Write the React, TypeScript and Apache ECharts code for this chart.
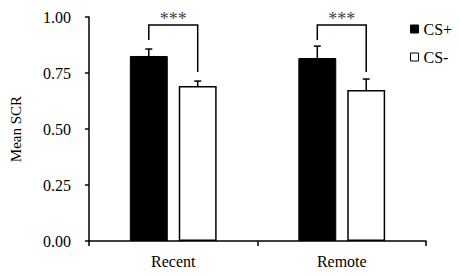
import React, { useEffect, useRef } from "react";
import * as echarts from "echarts";

const categories = ["Recent", "Remote"];
const seriesNames = ["CS+", "CS-"];
const csPlus = [0.826, 0.817];
const csMinus = [0.692, 0.674];
const csPlusErr = [0.031, 0.053];
const csMinusErr = [0.022, 0.049];
const yTicks = [0, 0.25, 0.5, 0.75, 1.0];
// significance brackets: [top, leftLegBottom, rightLegBottom]
const sigTop = [0.964, 0.964];
const sigLeftBottom = [0.897, 0.897];
const sigRightBottom = [0.754, 0.754];
const sigLabels = ["***", "***"];

const FONT = "Liberation Serif";
const BAR_W = 0.225;
const BAR_GAP = 0.29;

export default function App() {
  const ref = useRef<HTMLDivElement>(null);
  useEffect(() => {
    if (!ref.current) return;
    const chart = echarts.init(ref.current, undefined, { renderer: "svg" });

    const offsetOf = (api: any, seriesIdx: number) => {
      const bw = api.size([1, 0])[0];
      const w = bw * BAR_W;
      const g = w * BAR_GAP;
      return (seriesIdx === 0 ? -1 : 1) * (w + g) / 2;
    };

    const errData = [
      ...csPlus.map((v, i) => [i, v, v + csPlusErr[i], 0]),
      ...csMinus.map((v, i) => [i, v, v + csMinusErr[i], 1]),
    ];
    const sigData = categories.map((_, i) => [i, sigTop[i], sigLeftBottom[i], sigRightBottom[i]]);

    chart.setOption({
      animation: false,
      textStyle: { fontFamily: FONT },
      grid: { left: 88, right: 33, top: 17, bottom: 35 },
      legend: {
        orient: "vertical",
        left: 405,
        top: 16,
        itemWidth: 8,
        itemHeight: 8,
        itemGap: 12,
        icon: "rect",
        textStyle: { fontFamily: FONT, fontSize: 16, color: "#000" },
        data: [
          { name: "CS+", itemStyle: { color: "#000", borderColor: "#000", borderWidth: 1 } },
          { name: "CS-", itemStyle: { color: "#fff", borderColor: "#000", borderWidth: 1 } },
        ],
      },
      xAxis: {
        type: "category",
        data: categories,
        axisLine: { lineStyle: { color: "#000", width: 1.5 } },
        axisTick: { show: true, length: 5, lineStyle: { color: "#000", width: 1.5 } },
        axisLabel: { fontFamily: FONT, fontSize: 16, color: "#000", margin: 12 },
      },
      yAxis: {
        type: "value",
        min: 0,
        max: 1,
        interval: 0.25,
        name: "Mean SCR",
        nameLocation: "middle",
        nameGap: 66,
        nameTextStyle: { fontFamily: FONT, fontSize: 15, color: "#000" },
        splitLine: { show: false },
        axisLine: { show: true, lineStyle: { color: "#000", width: 1.5 } },
        axisTick: { show: true, length: 4, lineStyle: { color: "#000", width: 1.5 } },
        axisLabel: {
          fontFamily: FONT,
          fontSize: 16,
          color: "#000",
          margin: 18,
          formatter: (v: number) => (yTicks.includes(v) ? v.toFixed(2) : ""),
        },
      },
      series: [
        {
          name: seriesNames[0],
          type: "bar",
          data: csPlus,
          barWidth: BAR_W * 100 + "%",
          barGap: BAR_GAP * 100 + "%",
          itemStyle: { color: "#000", borderColor: "#000", borderWidth: 1 },
        },
        {
          name: seriesNames[1],
          type: "bar",
          data: csMinus,
          barWidth: BAR_W * 100 + "%",
          barGap: BAR_GAP * 100 + "%",
          itemStyle: { color: "#fff", borderColor: "#000", borderWidth: 1.5 },
        },
        {
          type: "custom",
          name: "err",
          silent: true,
          z: 5,
          data: errData,
          renderItem: (params: any, api: any) => {
            const cat = api.value(0);
            const s = api.value(3);
            const top = api.coord([cat, api.value(1)]);
            const hi = api.coord([cat, api.value(2)]);
            const x = top[0] + offsetOf(api, s);
            const cap = 3.5;
            return {
              type: "group",
              children: [
                { type: "line", shape: { x1: x, y1: top[1], x2: x, y2: hi[1] }, style: { stroke: "#000", lineWidth: 1.5 } },
                { type: "line", shape: { x1: x - cap, y1: hi[1], x2: x + cap, y2: hi[1] }, style: { stroke: "#000", lineWidth: 1.5 } },
              ],
            };
          },
        },
        {
          type: "custom",
          name: "sig",
          silent: true,
          z: 5,
          data: sigData,
          renderItem: (params: any, api: any) => {
            const cat = api.value(0);
            const t = api.coord([cat, api.value(1)]);
            const lb = api.coord([cat, api.value(2)]);
            const rb = api.coord([cat, api.value(3)]);
            const xl = t[0] + offsetOf(api, 0);
            const xr = t[0] + offsetOf(api, 1);
            return {
              type: "group",
              children: [
                {
                  type: "polyline",
                  shape: { points: [[xl, lb[1]], [xl, t[1]], [xr, t[1]], [xr, rb[1]]] },
                  style: { stroke: "#000", lineWidth: 1.5, fill: null },
                },
                {
                  type: "text",
                  x: (xl + xr) / 2,
                  y: t[1] + 3,
                  style: {
                    text: sigLabels[params.dataIndex],
                    fontFamily: FONT,
                    fontSize: 18,
                    fill: "#444",
                    align: "center",
                    verticalAlign: "bottom",
                  },
                },
              ],
            };
          },
        },
      ],
    });
    return () => chart.dispose();
  }, []);
  return <div ref={ref} style={{ width: 459, height: 276, position: "absolute", left: 0, top: 0, background: "#fff" }} />;
}
